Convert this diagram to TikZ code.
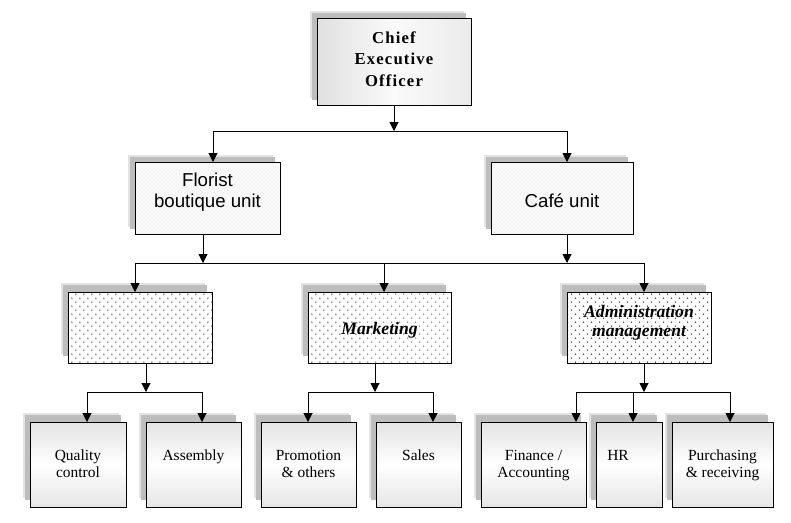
\documentclass[tikz,border=0pt]{standalone}
\usepackage{fontspec}
\setmainfont{Liberation Serif}
\newfontfamily\arialf{Liberation Sans}
\newfontfamily\ceofont[LetterSpace=7]{Liberation Serif}
\usetikzlibrary{arrows.meta,shadows,patterns,patterns.meta}
\begin{document}
\begin{tikzpicture}[x=0.75pt,y=-0.75pt,
  conn/.style={line width=0.75pt, draw=black},
  arr/.style={conn, -{Triangle[length=6.75pt,width=6.75pt]}},
  shS/.style={general shadow={fill=gray!22, shadow xshift=-5.2pt, shadow yshift=5.2pt},
              general shadow={fill=gray!52, shadow xshift=-3.75pt, shadow yshift=3.75pt}},
  shL/.style={general shadow={fill=gray!22, shadow xshift=-5.2pt, shadow yshift=6.4pt},
              general shadow={fill=gray!52, shadow xshift=-3.75pt, shadow yshift=4.9pt}},
  boxbase/.style={draw=black, line width=0.75pt, inner sep=0pt, outer sep=0pt},
  ceobox/.style={boxbase, shS, left color=gray!24, right color=gray!16, middle color=gray!4},
  unitbox/.style={boxbase, shS, preaction={fill=gray!4}, pattern=crosshatch dots, pattern color=gray!20, minimum height=72*0.75pt},
  dotbox/.style={boxbase, shL, preaction={fill=white}, pattern={Dots[distance=4.24pt, angle=45, radius=0.5pt]}, pattern color=black, minimum height=71*0.75pt},
  leafbox/.style={boxbase, shL, top color=gray!22, bottom color=gray!20, middle color=white, minimum height=85*0.75pt},
  ceotext/.style={font={\ceofont\bfseries\fontsize{12.5}{16}\selectfont}, align=center, inner sep=0pt},
  unittext/.style={font={\arialf\fontsize{14}{15.75}\selectfont}, align=center, inner sep=0pt},
  midtext/.style={font={\bfseries\itshape\fontsize{13.2}{14.25}\selectfont}, align=center, inner sep=0pt},
  leaftext/.style={font={\fontsize{11.6}{12.75}\selectfont}, align=center, inner sep=0pt, anchor=base}
]
\useasboundingbox (0,0) rectangle (791,522);

% ---- boxes ----
\node[ceobox, minimum width=154*0.75pt, minimum height=87*0.75pt] (ceo) at (394,61.5) {};
\node[unitbox, minimum width=145*0.75pt] (fl) at (207.5,198) {};
\node[unitbox, minimum width=142*0.75pt] (cafe) at (562,198) {};
\node[dotbox, minimum width=144*0.75pt] (emp) at (140,327.5) {};
\node[dotbox, minimum width=143*0.75pt] (mk) at (379.5,327.5) {};
\node[dotbox, minimum width=144*0.75pt] (ad) at (639,327.5) {};
\node[leafbox, minimum width=96*0.75pt] (qc) at (78,464.5) {};
\node[leafbox, minimum width=95*0.75pt] (as) at (193.5,464.5) {};
\node[leafbox, minimum width=95*0.75pt] (pr) at (308.5,464.5) {};
\node[leafbox, minimum width=85*0.75pt] (sa) at (418.5,464.5) {};
\node[leafbox, minimum width=105*0.75pt] (fi) at (533.5,464.5) {};
\node[leafbox, minimum width=66*0.75pt] (hr) at (629,464.5) {};
\node[leafbox, minimum width=101*0.75pt] (pu) at (722.5,464.5) {};

% ---- texts ----
\node[ceotext] (ceot) at (394,59) {Chief\\Executive\\Officer};
\node[unittext] (flt) at (207.5,192) {Florist\\boutique unit};
\node[unittext] (cafet) at (562,201) {Café unit};
\node[midtext] (mkt) at (379.5,330.5) {Marketing};
\node[midtext] (adt) at (639,323) {Administration\\management};
\node[leaftext] (qct) at ([yshift=-41.25pt]qc.north) {Quality\\control};
\node[leaftext] (ast) at ([yshift=-28.5pt]as.north) {Assembly};
\node[leaftext] (prt) at ([yshift=-41.25pt]pr.north) {Promotion\\\&~others};
\node[leaftext] (sat) at ([yshift=-28.5pt]sa.north) {Sales};
\node[leaftext] (fit) at ([yshift=-41.25pt]fi.north) {Finance /\\Accounting};
\node[leaftext, anchor=base west] (hrt) at ([yshift=-28.5pt,xshift=8.25pt]hr.north west) {HR};
\node[leaftext] (put) at ([yshift=-41.25pt]pu.north) {Purchasing\\\&~receiving};

% ---- connectors level 1 ----
\coordinate (b1L) at (213,131);
\coordinate (b1R) at (567,131);
\draw[arr] (ceo.south) -- (ceo.south |- b1L);
\draw[conn] (b1L) -- (b1R);
\draw[arr] (b1L) -- (b1L |- fl.north);
\draw[arr] (b1R) -- (b1R |- cafe.north);

% ---- connectors level 2 ----
\coordinate (b2L) at (135,263);
\coordinate (b2M) at (384,263);
\coordinate (b2R) at (644,263);
\coordinate (fo) at (203,263);
\draw[arr] (fl.south -| fo) -- (fo);
\draw[arr] (cafe.south -| b1R) -- (b1R |- b2L);
\draw[conn] (b2L) -- (b2R);
\draw[arr] (b2L) -- (b2L |- emp.north);
\draw[arr] (b2M) -- (b2M |- mk.north);
\draw[arr] (b2R) -- (b2R |- ad.north);

% ---- connectors level 3 ----
\coordinate (e3) at (146,392);
\coordinate (e3L) at (87,392);
\coordinate (e3R) at (202,392);
\draw[arr] (emp.south -| e3) -- (e3);
\draw[conn] (e3L) -- (e3R);
\draw[arr] (e3L) -- (e3L |- qc.north);
\draw[arr] (e3R) -- (e3R |- as.north);

\coordinate (m3) at (375,392);
\coordinate (m3L) at (308,392);
\coordinate (m3R) at (433,392);
\draw[arr] (mk.south -| m3) -- (m3);
\draw[conn] (m3L) -- (m3R);
\draw[arr] (m3L) -- (m3L |- pr.north);
\draw[arr] (m3R) -- (m3R |- sa.north);

\coordinate (a3) at (644,392);
\coordinate (a3L) at (576,392);
\coordinate (a3M) at (633,392);
\coordinate (a3R) at (730,392);
\draw[arr] (ad.south -| a3) -- (a3);
\draw[conn] (a3L) -- (a3R);
\draw[arr] (a3L) -- (a3L |- fi.north);
\draw[arr] (a3M) -- (a3M |- hr.north);
\draw[arr] (a3R) -- (a3R |- pu.north);
\end{tikzpicture}
\end{document}
